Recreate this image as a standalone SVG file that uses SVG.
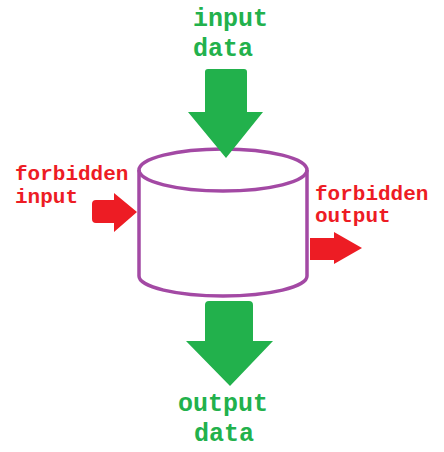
<svg xmlns="http://www.w3.org/2000/svg" width="444" height="452" viewBox="0 0 444 452">
<style>
.g{fill:#22B14C}
.r{fill:#ED1C24}
.cyl{fill:none;stroke:#A349A4;stroke-width:3.5}
.tg{font-family:"Liberation Mono","Courier New",monospace;font-size:25px;font-weight:bold;fill:#22B14C}
.tr{font-family:"Liberation Mono","Courier New",monospace;font-size:21px;font-weight:bold;fill:#ED1C24}
</style>
<rect width="444" height="452" fill="#fff"/>
<g id="store">
<path class="cyl" d="M139,170 L139,276 A84,20 0 0 0 307,276 L307,170"/>
<ellipse class="cyl" cx="223" cy="170" rx="84" ry="21"/>
</g>
<g id="connectors">
<path class="g" d="M205,72 Q205,69 208,69 L244,69 Q247,69 247,72 L247,112 L263,112 L226,158 L188,112 L205,112 Z"/>
<path class="g" d="M205,305 Q205,301 209,301 L249,301 Q253,301 253,305 L253,341 L273,341 L230,386 L186,341 L205,341 Z"/>
<path class="r" d="M92,204 Q92,200 96,200 L114,200 L114,193 L137,212 L114,232 L114,223 L96,223 Q92,223 92,219 Z"/>
<path class="r" d="M310,238 L334,238 L334,232 L362,248 L334,264 L334,260 L310,260 Z"/>
</g>
<g id="input-label"><text class="tg" x="193" y="26">input</text><text class="tg" x="193" y="56">data</text></g>
<g id="output-label"><text class="tg" x="178" y="411">output</text><text class="tg" x="194" y="441">data</text></g>
<g id="forbidden-input-label"><text class="tr" x="15" y="180">forbidden</text><text class="tr" x="15" y="203">input</text></g>
<g id="forbidden-output-label"><text class="tr" x="315" y="200">forbidden</text><text class="tr" x="315" y="222">output</text></g>
</svg>
